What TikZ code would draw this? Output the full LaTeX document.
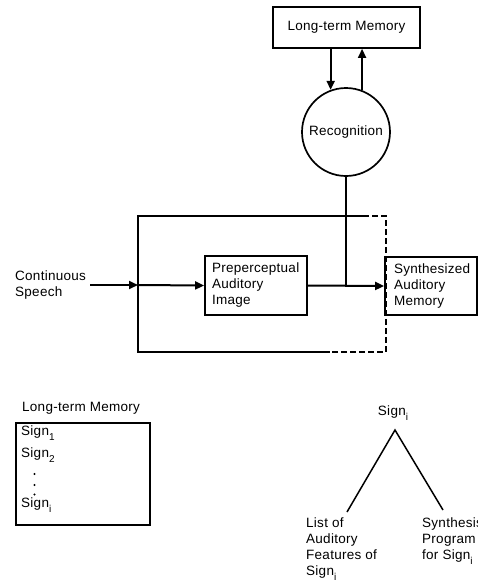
\documentclass[tikz,border=0pt]{standalone}
\usepackage{fontspec}
\setmainfont[LetterSpace=2]{Liberation Sans}
\usetikzlibrary{arrows.meta}
\newcommand{\sbs}[1]{\raisebox{-0.6ex}{\fontsize{10}{10}\selectfont #1}}
\begin{document}
\begin{tikzpicture}[x=1pt,y=-1pt,
  lbl/.style={font=\fontsize{13.5}{16}\selectfont, inner sep=0pt, align=left},
  boxnode/.style={draw, line width=1.7pt, font=\fontsize{13.5}{16}\selectfont, align=left},
  ln/.style={line width=1.9pt},
  arr/.style={line width=2pt, -{Triangle[length=9pt,width=8pt]}},
  dsh/.style={line width=1.6pt, dash pattern=on 6pt off 3pt}]
\useasboundingbox (0,0) rectangle (478,582);

% top part
\node[boxnode, minimum width=147pt, minimum height=41pt, inner sep=0pt] (ltm) at (346.5,27.5) {Long-term Memory};
\node[draw, circle, line width=1.7pt, minimum size=88pt, inner sep=0pt, font=\fontsize{13.5}{16}\selectfont] (rec) at (346,132) {Recognition};
\draw[arr] (ltm.south -| rec.110) -- (rec.110);
\draw[arr] (rec.69) -- (rec.69 |- ltm.south);

% big rectangle
\coordinate (nw) at (138,216);
\coordinate (tm) at (363,216);
\coordinate (ne) at (386,216);
\coordinate (se) at (386,352);
\coordinate (bm) at (330,352);
\coordinate (sw) at (138,352);
\draw[ln] (tm) -- (nw) -- (sw) -- (bm);
\draw[dsh] (tm) -- (ne) -- (se) -- (bm);

\node[boxnode, minimum width=102pt, minimum height=59pt, text width=88pt, inner xsep=7pt] (pre) at (256,285.5) {Preperceptual\\Auditory\\Image};
\node[boxnode, minimum width=92pt, minimum height=58pt, text width=80pt, inner xsep=6pt] (syn) at (431,286) {\hspace*{3pt}Synthesized\\\hspace*{3pt}Auditory\\\hspace*{3pt}Memory};

\node[lbl, anchor=west] (cs) at (15,285.5) {Continuous\\Speech};
\coordinate (csend) at (90,285);
\coordinate (bl) at (138,285);
\draw[arr] (csend) -- (bl);
\draw[arr] (bl) -- (pre.west);
\draw[arr] (pre.east) -- (syn.west);
\coordinate (j) at (rec.south |- pre.east);
\draw[ln] (rec.south) -- (j);

% bottom left
\node[lbl, anchor=west] (ltm2) at (22,408) {Long-term Memory};
\node[draw, line width=1.7pt, minimum width=134pt, minimum height=102pt, inner sep=0pt] (lbox) at (83,474) {};
\node[lbl, anchor=west] (s1) at (21,433) {Sign\sbs{1}};
\node[lbl, anchor=west] (s2) at (21,455) {Sign\sbs{2}};
\node[lbl, anchor=west] (si) at (21,505) {Sign\sbs{i}};
\fill (34.5,474) circle (1.1pt) (34.5,485) circle (1.1pt) (34.5,494.5) circle (1.1pt);

% bottom right tree
\node[lbl] (root) at (393,413) {Sign\sbs{i}};
\coordinate (apex) at (395,430);
\coordinate (lend) at (347,512);
\coordinate (rend) at (443,510);
\draw[line width=1.5pt] (lend) -- (apex) -- (rend);
\node[lbl, anchor=north west] (feat) at (306,518) {List of\\Auditory\\Features of\\Sign\sbs{i}};
\node[lbl, anchor=north west] (synp) at (422,518) {Synthesis\\Program\\for Sign\sbs{i}};
\end{tikzpicture}
\end{document}
